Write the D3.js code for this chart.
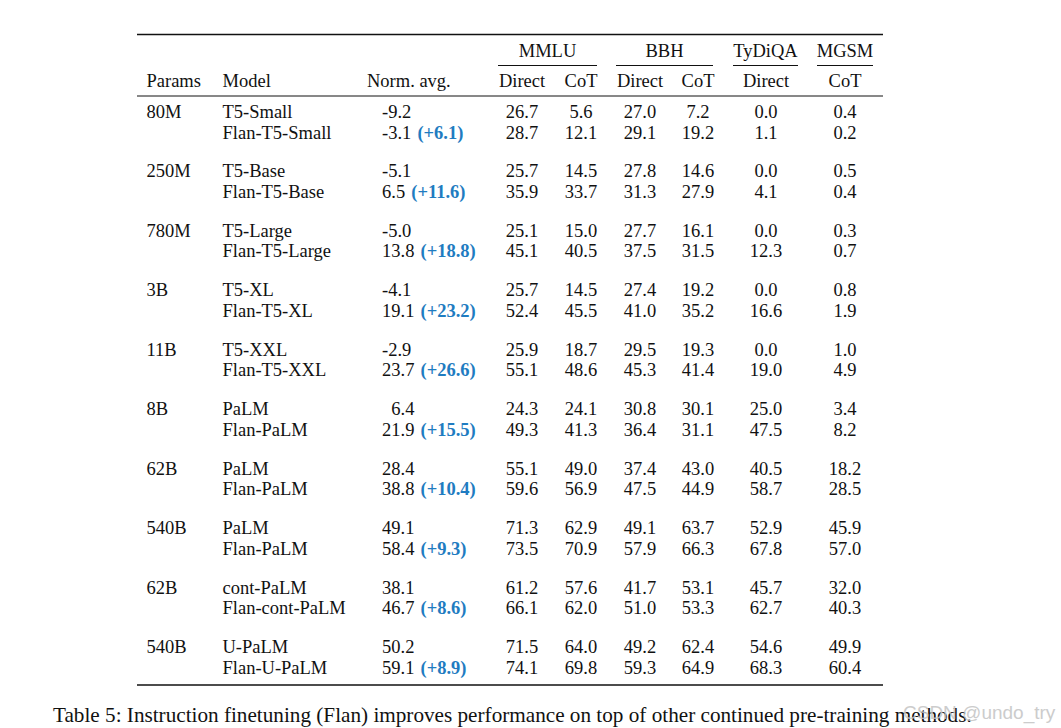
<!DOCTYPE html>
<html><head><meta charset="utf-8">
<script src="https://cdn.jsdelivr.net/npm/d3@7"></script>
<style>
html,body{margin:0;padding:0;background:#fff;}
svg{display:block;}
text{font-family:"Liberation Serif","DejaVu Serif",serif;fill:#111;}
</style></head>
<body>
<svg id="chart" width="1061" height="728"></svg>
<script>
// ---- data ----
const params = ["80M","250M","780M","3B","11B","8B","62B","540B","62B","540B"];
const baseModels = ["T5-Small","T5-Base","T5-Large","T5-XL","T5-XXL","PaLM","PaLM","PaLM","cont-PaLM","U-PaLM"];
const flanModels = ["Flan-T5-Small","Flan-T5-Base","Flan-T5-Large","Flan-T5-XL","Flan-T5-XXL","Flan-PaLM","Flan-PaLM","Flan-PaLM","Flan-cont-PaLM","Flan-U-PaLM"];
const baseNormAvg = [-9.2,-5.1,-5.0,-4.1,-2.9,6.4,28.4,49.1,38.1,50.2];
const flanNormAvg = [-3.1,6.5,13.8,19.1,23.7,21.9,38.8,58.4,46.7,59.1];
const flanGain = [6.1,11.6,18.8,23.2,26.6,15.5,10.4,9.3,8.6,8.9];
const groupHeaders = ["MMLU","BBH","TyDiQA","MGSM"];
const colHeaders = ["Direct","CoT","Direct","CoT","Direct","CoT"];
const colKeys = ["mmluDirect","mmluCot","bbhDirect","bbhCot","tydiqaDirect","mgsmCot"];
const mmluDirectBase = [26.7,25.7,25.1,25.7,25.9,24.3,55.1,71.3,61.2,71.5];
const mmluDirectFlan = [28.7,35.9,45.1,52.4,55.1,49.3,59.6,73.5,66.1,74.1];
const mmluCotBase = [5.6,14.5,15.0,14.5,18.7,24.1,49.0,62.9,57.6,64.0];
const mmluCotFlan = [12.1,33.7,40.5,45.5,48.6,41.3,56.9,70.9,62.0,69.8];
const bbhDirectBase = [27.0,27.8,27.7,27.4,29.5,30.8,37.4,49.1,41.7,49.2];
const bbhDirectFlan = [29.1,31.3,37.5,41.0,45.3,36.4,47.5,57.9,51.0,59.3];
const bbhCotBase = [7.2,14.6,16.1,19.2,19.3,30.1,43.0,63.7,53.1,62.4];
const bbhCotFlan = [19.2,27.9,31.5,35.2,41.4,31.1,44.9,66.3,53.3,64.9];
const tydiqaDirectBase = [0.0,0.0,0.0,0.0,0.0,25.0,40.5,52.9,45.7,54.6];
const tydiqaDirectFlan = [1.1,4.1,12.3,16.6,19.0,47.5,58.7,67.8,62.7,68.3];
const mgsmCotBase = [0.4,0.5,0.3,0.8,1.0,3.4,18.2,45.9,32.0,49.9];
const mgsmCotFlan = [0.2,0.4,0.7,1.9,4.9,8.2,28.5,57.0,40.3,60.4];
const caption = "Table 5: Instruction finetuning (Flan) improves performance on top of other continued pre-training methods.";
const watermark = "CSDN @undo_try";

// ---- layout ----
const svg = d3.select("#chart");
const FS = 18.5;
const blue = "#1f7cc1";
const tableLeft = 137, tableRight = 883;

const colX = d3.scaleOrdinal().domain(colKeys).range([522, 581, 640, 698, 766, 845]);
const groupSpans = [[498,597],[616,713],[733,798],[817,873]];
const yGroup = d3.scaleLinear().domain([0, 9]).range([118, 653]);
const lineGap = 20.5;

const cols = {
  mmluDirect:[mmluDirectBase,mmluDirectFlan],
  mmluCot:[mmluCotBase,mmluCotFlan],
  bbhDirect:[bbhDirectBase,bbhDirectFlan],
  bbhCot:[bbhCotBase,bbhCotFlan],
  tydiqaDirect:[tydiqaDirectBase,tydiqaDirectFlan],
  mgsmCot:[mgsmCotBase,mgsmCotFlan]
};

// rules
function rule(x1,x2,y,w){
  svg.append("line").attr("x1",x1).attr("x2",x2).attr("y1",y).attr("y2",y)
    .attr("stroke","#111").attr("stroke-width",w);
}
rule(tableLeft, tableRight, 34.5, 1.6);
rule(tableLeft, tableRight, 96, 1.0);
rule(tableLeft, tableRight, 685, 1.6);
groupSpans.forEach(s => rule(s[0], s[1], 65.5, 1.0));

// headers
svg.selectAll("text.gh").data(groupHeaders).join("text").attr("class","gh")
  .attr("x",(d,i)=>(groupSpans[i][0]+groupSpans[i][1])/2).attr("y",56.7)
  .attr("text-anchor","middle").attr("font-size",FS).text(d=>d);
svg.append("text").attr("x",146.5).attr("y",86.5).attr("font-size",FS).text("Params");
svg.append("text").attr("x",222.5).attr("y",86.5).attr("font-size",FS).text("Model");
svg.append("text").attr("x",367).attr("y",86.5).attr("font-size",FS).text("Norm. avg.");
svg.selectAll("text.ch").data(colHeaders).join("text").attr("class","ch")
  .attr("x",(d,i)=>colX(colKeys[i])).attr("y",86.5)
  .attr("text-anchor","middle").attr("font-size",FS).text(d=>d);

// body
const fmt = v => v.toFixed(1);
const fspace = "\u2007";
params.forEach((p,g)=>{
  const y0 = yGroup(g), y1 = y0 + lineGap;
  svg.append("text").attr("x",146.5).attr("y",y0).attr("font-size",FS).text(p);
  svg.append("text").attr("x",222.5).attr("y",y0).attr("font-size",FS).text(baseModels[g]);
  svg.append("text").attr("x",222.5).attr("y",y1).attr("font-size",FS).text(flanModels[g]);
  const bv = baseNormAvg[g];
  svg.append("text").attr("x",382).attr("y",y0).attr("font-size",FS)
    .text((bv>=0 && bv<10 ? fspace : "") + fmt(bv));
  const t = svg.append("text").attr("x",382).attr("y",y1).attr("font-size",FS);
  t.append("tspan").text(fmt(flanNormAvg[g]) + " ");
  t.append("tspan").attr("fill",blue).attr("font-weight","bold").attr("dx",1.5).style("fill",blue)
    .text("(+" + fmt(flanGain[g]) + ")");
  colKeys.forEach(k=>{
    svg.append("text").attr("x",colX(k)).attr("y",y0).attr("text-anchor","middle").attr("font-size",FS).text(fmt(cols[k][0][g]));
    svg.append("text").attr("x",colX(k)).attr("y",y1).attr("text-anchor","middle").attr("font-size",FS).text(fmt(cols[k][1][g]));
  });
});

// caption
svg.append("text").attr("x",53).attr("y",722).attr("font-size",21.2).text(caption);
svg.append("text").attr("x",903).attr("y",719).attr("font-size",19)
  .style("fill","#c4c4c4").style("font-family","'Liberation Sans',sans-serif")
  .attr("opacity",0.85).text(watermark);
</script>
</body></html>
